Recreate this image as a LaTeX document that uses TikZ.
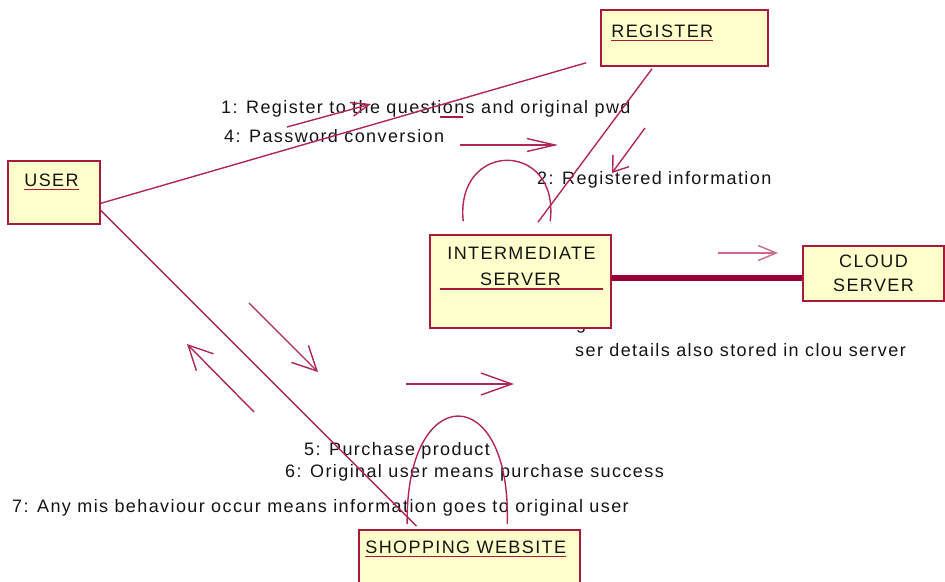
\documentclass[tikz,border=0pt]{standalone}
\usepackage{fontspec}
\setmainfont{Liberation Sans}[LetterSpace=7.8]
\usetikzlibrary{arrows.meta,calc}
\definecolor{boxfill}{RGB}{255,255,204}
\definecolor{boxred}{RGB}{168,25,64}
\definecolor{linkred}{RGB}{176,38,88}
\definecolor{thickred}{RGB}{150,0,50}
\definecolor{palered}{RGB}{205,105,138}
\definecolor{inktext}{RGB}{20,20,20}
\tikzset{
  umlbox/.style={draw=boxred,fill=boxfill,line width=1.6pt,inner sep=0pt},
  boxtitle/.style={inner sep=0pt,text=inktext,font=\fontsize{18}{21}\selectfont},
  msglabel/.style={inner sep=0pt,anchor=base west,text=inktext,font=\fontsize{18}{21}\selectfont},
  uline/.style={boxred,line width=1.4pt},
  link/.style={linkred,line width=1.4pt},
  thicklink/.style={thickred,line width=5.5pt},
  msgarr/.style={linkred,line width=1.4pt,-{Straight Barb[length=24pt,width=24pt]}}
}
\begin{document}
\begin{tikzpicture}[x=1pt,y=-1pt]
  \useasboundingbox (0,0) rectangle (945,581);
  % message labels
  \node[msglabel] (m1) at (221,113.5) {1: Register to the questions and original pwd};
  \node[msglabel] (m4) at (224,142.5) {4: Password conversion};
  \node[msglabel] (m2) at (537,184.5) {2: Registered information};
  \node[msglabel] (mg) at (576,329) {g};
  \node[msglabel] (m3) at (575,356.5) {ser details also stored in clou server};
  \node[msglabel] (m5) at (304,455.5) {5: Purchase product};
  \node[msglabel] (m6) at (285,477.5) {6: Original user means purchase success};
  \node[msglabel] (m7) at (12,512.5) {7: Any mis behaviour occur means information goes to original user};
  \draw[uline] (440,117) -- (463,117);

  % objects
  \node[umlbox,minimum width=167pt,minimum height=56pt] (reg) at (684.5,38) {};
  \node[umlbox,minimum width=92pt,minimum height=63pt] (user) at (54,192.5) {};
  \node[umlbox,minimum width=181pt,minimum height=93pt] (inter) at (520.5,281.5) {};
  \node[umlbox,minimum width=141pt,minimum height=55pt] (cloud) at (873.5,273.5) {};
  \node[umlbox,minimum width=221pt,minimum height=70pt] (shop) at (469.5,565) {};

  \node[boxtitle,anchor=base west] (regt) at ($(reg.north west)+(11,28.5)$) {REGISTER};
  \draw[uline] ([yshift=-2.5pt]regt.base west) -- ([yshift=-2.5pt]regt.base east);
  \node[boxtitle,anchor=base west] (usert) at ($(user.north west)+(17,26.5)$) {USER};
  \draw[uline] ([yshift=-2.5pt]usert.base west) -- ([yshift=-2.5pt]usert.base east);
  \node[boxtitle,anchor=base] (intert1) at ($(inter.north)+(1,25.5)$) {INTERMEDIATE};
  \node[boxtitle,anchor=base] (intert2) at ($(inter.north)+(0,51.5)$) {SERVER};
  \draw[uline] ($(inter.west)+(11,7.5)$) -- ($(inter.east)+(-9,7.5)$);
  \node[boxtitle,anchor=base] (cloudt1) at ($(cloud.north)+(0,22.5)$) {CLOUD};
  \node[boxtitle,anchor=base] (cloudt2) at ($(cloud.north)+(0,46.5)$) {SERVER};
  \node[boxtitle,anchor=base west] (shopt) at ($(shop.north west)+(7,24.5)$) {SHOPPING WEBSITE};
  \draw[uline] ([yshift=-2.5pt]shopt.base west) -- ([yshift=-2.5pt]shopt.base east);

  % links
  \coordinate (regend) at ($(reg.south west)+(-14,-4)$);
  \coordinate (interend) at ($(inter.north)+(17.5,-12)$);
  \coordinate (shopend) at ($(shop.north)+(-53,-3)$);
  \draw[link] (user.-13) -- (regend);
  \draw[link] (interend) -- ($(reg.south)+(-32.5,2)$);
  \draw[link] (user.-21) -- (shopend);
  \draw[thicklink] ($(inter.east)+(0,-3.5)$) -- ($(cloud.west)+(0,4.5)$);
  \draw[link] ($(inter.north west)+(34,-13)$) .. controls (455,140) and (560,140) .. ($(inter.north west)+(121,-13)$);
  \draw[link] ($(shop.north west)+(49,-5)$) .. controls (405,380) and (512,380) .. ($(shop.north west)+(149,-5)$);

  % messages
  \draw[msgarr,-{Straight Barb[length=18pt,width=14pt]}] (287,127) -- (371,104);
  \draw[msgarr,-{Straight Barb[length=28pt,width=13pt]}] (460,145) -- (558,145);
  \draw[msgarr,-{Straight Barb[length=14pt,width=20pt]}] (645,128) -- (612,173);
  \draw[msgarr,palered,-{Straight Barb[length=18pt,width=15pt]}] (718,253) -- (778,253);
  \draw[msgarr] (249,303) -- (318,372);
  \draw[msgarr] (254,412) -- (187,344);
  \draw[msgarr,-{Straight Barb[length=31pt,width=22pt]}] (406,384) -- (514,384);
\end{tikzpicture}
\end{document}
